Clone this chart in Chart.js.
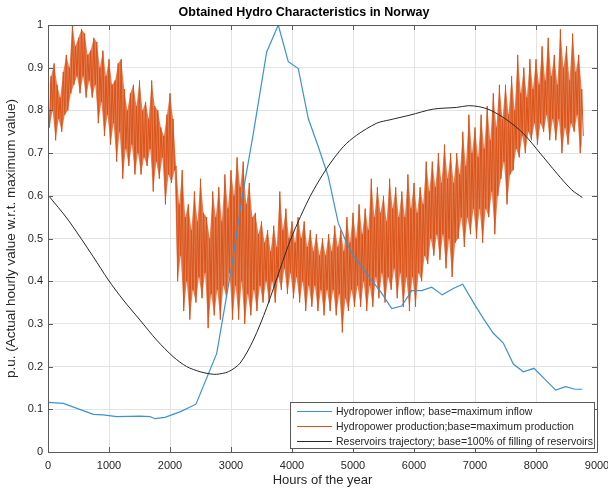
<!DOCTYPE html>
<html lang="en">
<head>
<meta charset="UTF-8">
<title>Obtained Hydro Characteristics in Norway</title>
<style>
  body { margin: 0; background: #fff; }
  #wrap { width: 608px; height: 489px; }
</style>
</head>
<body>
<div id="wrap"><canvas id="hydroChart"></canvas></div>

<script src="https://cdn.jsdelivr.net/npm/chart.js"></script>
<script>
// weekly inflow (hours, p.u. of max inflow)
const inflowHours = [0, 251, 743, 907, 1126, 1508, 1672, 1754, 1918, 2164, 2426, 2766, 3011, 3175, 3366, 3585, 3775,
  3939, 4103, 4267, 4431, 4595, 4759, 4897, 5005, 5279, 5470, 5634, 5798, 5962, 6126, 6290, 6464, 6644, 6798,
  7000, 7136, 7300, 7464, 7628, 7792, 7967, 8148, 8323, 8487, 8639, 8760];
const inflowValues = [0.116, 0.114, 0.088, 0.087, 0.083, 0.084, 0.083, 0.078, 0.081, 0.094, 0.112, 0.231, 0.434, 0.590, 0.746, 0.937, 1.0,
  0.914, 0.898, 0.781, 0.715, 0.645, 0.536, 0.489, 0.461, 0.407, 0.372, 0.336, 0.342, 0.378, 0.378, 0.386, 0.368, 0.383, 0.393,
  0.344, 0.313, 0.278, 0.255, 0.206, 0.188, 0.196, 0.170, 0.145, 0.153, 0.147, 0.147];

// reservoir filling (hours, share of full reservoirs)
const reservoirHours = [0, 333, 743, 989, 1234, 1508, 1782, 2054, 2274, 2492, 2656, 2766, 2956, 3148, 3366, 3585, 3803,
  3995, 4295, 4569, 4841, 5061, 5389, 5607, 5934, 6316, 6700, 6890, 7054, 7246, 7520, 7792, 8066, 8339, 8585, 8760];
const reservoirValues = [0.602, 0.543, 0.457, 0.403, 0.356, 0.309, 0.262, 0.223, 0.200, 0.188, 0.183, 0.182, 0.188, 0.208, 0.262, 0.338, 0.428,
  0.504, 0.598, 0.664, 0.715, 0.742, 0.770, 0.778, 0.789, 0.803, 0.807, 0.811, 0.809, 0.801, 0.778, 0.746, 0.700, 0.653, 0.614, 0.596];

// hourly production, read as local peaks (every 50 h from 0) and troughs (every 50 h from 25)
const prodStep = 50;
const productionPeaks = [
  0.84, 0.88, 0.91, 0.86, 0.83, 0.89, 0.93, 0.90, 1.00, 0.95, 0.97, 0.99, 0.98, 0.93, 0.94, 0.97, 0.96, 0.90, 0.94, 0.88,
  0.92, 0.86, 0.87, 0.91, 0.92, 0.85, 0.80, 0.84, 0.86, 0.81, 0.87, 0.80, 0.82, 0.78, 0.87, 0.81, 0.80, 0.76, 0.74, 0.79,
  0.84, 0.78, 0.67, 0.58, 0.66, 0.55, 0.58, 0.52, 0.61, 0.54, 0.64, 0.56, 0.55, 0.50, 0.61, 0.55, 0.62, 0.54, 0.65, 0.57,
  0.66, 0.60, 0.69, 0.62, 0.68, 0.58, 0.63, 0.55, 0.56, 0.51, 0.54, 0.49, 0.52, 0.47, 0.53, 0.48, 0.61, 0.52, 0.57, 0.50,
  0.54, 0.49, 0.55, 0.50, 0.54, 0.48, 0.52, 0.47, 0.51, 0.46, 0.50, 0.46, 0.51, 0.47, 0.53, 0.48, 0.52, 0.47, 0.55, 0.49,
  0.56, 0.50, 0.58, 0.51, 0.57, 0.52, 0.64, 0.55, 0.62, 0.56, 0.60, 0.54, 0.64, 0.57, 0.62, 0.55, 0.61, 0.55, 0.65, 0.57,
  0.63, 0.56, 0.62, 0.58, 0.68, 0.61, 0.68, 0.62, 0.70, 0.63, 0.72, 0.64, 0.70, 0.63, 0.70, 0.65, 0.75, 0.67, 0.79, 0.70,
  0.76, 0.69, 0.79, 0.71, 0.81, 0.73, 0.84, 0.76, 0.86, 0.78, 0.86, 0.79, 0.88, 0.80, 0.93, 0.84, 0.90, 0.83, 0.92, 0.85,
  0.92, 0.86, 0.95, 0.87, 0.97, 0.88, 0.93, 0.86, 0.99, 0.90, 0.95, 0.87, 0.98, 0.89, 0.93, 0.85];
const productionTroughs = [
  0.76, 0.80, 0.73, 0.78, 0.75, 0.79, 0.80, 0.84, 0.86, 0.88, 0.84, 0.88, 0.83, 0.87, 0.83, 0.86, 0.77, 0.82, 0.74, 0.79,
  0.72, 0.77, 0.68, 0.75, 0.64, 0.71, 0.67, 0.72, 0.65, 0.70, 0.65, 0.69, 0.67, 0.71, 0.61, 0.68, 0.64, 0.69, 0.58, 0.65,
  0.63, 0.66, 0.40, 0.46, 0.33, 0.40, 0.31, 0.38, 0.35, 0.41, 0.36, 0.42, 0.29, 0.37, 0.32, 0.38, 0.31, 0.39, 0.36, 0.42,
  0.31, 0.39, 0.31, 0.40, 0.30, 0.37, 0.32, 0.38, 0.33, 0.39, 0.35, 0.40, 0.35, 0.40, 0.35, 0.41, 0.38, 0.43, 0.37, 0.42,
  0.36, 0.41, 0.35, 0.40, 0.33, 0.39, 0.34, 0.39, 0.33, 0.38, 0.32, 0.38, 0.33, 0.38, 0.32, 0.37, 0.28, 0.36, 0.33, 0.38,
  0.34, 0.39, 0.34, 0.40, 0.33, 0.39, 0.34, 0.41, 0.36, 0.42, 0.35, 0.41, 0.38, 0.43, 0.36, 0.42, 0.34, 0.41, 0.33, 0.41,
  0.34, 0.42, 0.40, 0.46, 0.44, 0.50, 0.46, 0.51, 0.45, 0.51, 0.43, 0.50, 0.41, 0.49, 0.50, 0.55, 0.48, 0.55, 0.51, 0.57,
  0.50, 0.57, 0.49, 0.57, 0.55, 0.61, 0.51, 0.60, 0.64, 0.68, 0.58, 0.65, 0.66, 0.71, 0.69, 0.74, 0.70, 0.75, 0.73, 0.77,
  0.72, 0.77, 0.75, 0.79, 0.73, 0.78, 0.73, 0.78, 0.70, 0.76, 0.72, 0.77, 0.75, 0.79, 0.70, 0.74];

const xTicks = [0, 1000, 2000, 3000, 4000, 5000, 6000, 7000, 8000, 9000];
const yTicks = [0, 0.1, 0.2, 0.3, 0.4, 0.5, 0.6, 0.7, 0.8, 0.9, 1];

const seriesNames = [
  'Hydropower inflow; base=maximum inflow',
  'Hydropower production;base=maximum production',
  'Reservoirs trajectory; base=100% of filling of reservoirs'
];
const seriesColors = ['#3a93d3', '#D95319', '#262626'];

const FONT = "'Liberation Sans', Arial, Helvetica, sans-serif";

const inflowData = inflowHours.map((h, i) => ({ x: h, y: inflowValues[i] }));
const reservoirData = reservoirHours.map((h, i) => ({ x: h, y: reservoirValues[i] }));
const peakData = productionPeaks.map((v, i) => ({ x: i * prodStep, y: v }));
const troughData = productionTroughs.map((v, i) => ({ x: i * prodStep + prodStep / 2, y: v }));
const productionData = [];
productionPeaks.forEach((v, i) => {
  productionData.push(peakData[i]);
  productionData.push(troughData[i]);
});

// box, inward ticks, title and the legend inside the axes
const matlabFrame = {
  id: 'matlabFrame',
  afterDraw(chart) {
    const { ctx, chartArea: a, scales } = chart;
    ctx.save();
    ctx.strokeStyle = '#5a5a5a';
    ctx.lineWidth = 1;
    ctx.strokeRect(a.left + 0.5, a.top + 0.5, a.right - a.left, a.bottom - a.top);
    ctx.beginPath();
    const tl = 5;
    xTicks.forEach(v => {
      const px = Math.round(scales.x.getPixelForValue(v)) + 0.5;
      ctx.moveTo(px, a.bottom); ctx.lineTo(px, a.bottom - tl);
      ctx.moveTo(px, a.top); ctx.lineTo(px, a.top + tl);
    });
    yTicks.forEach(v => {
      const py = Math.round(scales.y.getPixelForValue(v)) + 0.5;
      ctx.moveTo(a.left, py); ctx.lineTo(a.left + tl, py);
      ctx.moveTo(a.right, py); ctx.lineTo(a.right - tl, py);
    });
    ctx.stroke();

    ctx.fillStyle = '#000';
    ctx.font = 'bold 12.5px ' + FONT;
    ctx.textAlign = 'center';
    ctx.textBaseline = 'middle';
    ctx.fillText('Obtained Hydro Characteristics in Norway', 304, 13);

    // legend
    const bx = 290, by = 402, bw = a.right - 3 - bx, bh = a.bottom - 4 - by;
    ctx.fillStyle = '#fff';
    ctx.fillRect(bx, by, bw, bh);
    ctx.strokeStyle = '#5a5a5a';
    ctx.strokeRect(bx + 0.5, by + 0.5, bw, bh);
    ctx.font = '10.5px ' + FONT;
    ctx.textAlign = 'left';
    seriesNames.forEach((name, i) => {
      const y = by + 9 + i * 15;
      ctx.strokeStyle = seriesColors[i];
      ctx.beginPath();
      ctx.moveTo(bx + 7, y + 0.5);
      ctx.lineTo(bx + 42, y + 0.5);
      ctx.stroke();
      ctx.fillStyle = '#262626';
      ctx.fillText(name, bx + 46, y + 1);
    });
    ctx.restore();
  }
};

new Chart(document.getElementById('hydroChart'), {
  type: 'line',
  data: {
    datasets: [
      { label: seriesNames[0], data: inflowData, borderColor: seriesColors[0], borderWidth: 1.2, pointRadius: 0, order: 2 },
      { label: 'peaks', data: peakData, borderWidth: 0, borderColor: 'rgba(0,0,0,0)', pointRadius: 0, order: 5 },
      { label: 'troughs', data: troughData, borderWidth: 0, borderColor: 'rgba(0,0,0,0)', pointRadius: 0, order: 4,
        fill: '-1', backgroundColor: 'rgba(224,105,50,0.85)' },
      { label: seriesNames[1], data: productionData, borderColor: '#D95319', borderWidth: 1, pointRadius: 0, order: 3 },
      { label: seriesNames[2], data: reservoirData, borderColor: seriesColors[2], borderWidth: 1, pointRadius: 0, tension: 0.3, order: 1 }
    ]
  },
  options: {
    responsive: true,
    maintainAspectRatio: false,
    animation: false,
    layout: { padding: { top: 25, right: 0, left: 0, bottom: 0 } },
    plugins: {
      legend: { display: false },
      tooltip: { enabled: false }
    },
    scales: {
      x: {
        type: 'linear',
        min: 0, max: 9000,
        afterBuildTicks: s => { s.ticks = xTicks.map(v => ({ value: v })); },
        afterFit: s => { s.height = 37; s.paddingLeft = 0; s.paddingRight = 11; },
        grid: { color: '#e3e3e3', drawTicks: false },
        border: { display: false },
        ticks: { color: '#262626', font: { family: FONT, size: 11 }, padding: 7, maxRotation: 0,
          callback: v => String(v) },
        title: { display: true, text: 'Hours of the year', color: '#262626', font: { family: FONT, size: 13 }, padding: { top: 0, bottom: 1 } }
      },
      y: {
        type: 'linear',
        min: 0, max: 1,
        afterBuildTicks: s => { s.ticks = yTicks.map(v => ({ value: v })); },
        afterFit: s => { s.width = 48; },
        grid: { color: '#e3e3e3', drawTicks: false },
        border: { display: false },
        ticks: { color: '#262626', font: { family: FONT, size: 11 }, padding: 5,
          callback: v => String(Math.round(v * 10) / 10) },
        title: { display: true, text: 'p.u. (Actual hourly value w.r.t. maximum value)', color: '#262626', font: { family: FONT, size: 13.5 }, padding: { top: 3, bottom: 0 } }
      }
    }
  },
  plugins: [matlabFrame]
});
</script>
</body>
</html>
